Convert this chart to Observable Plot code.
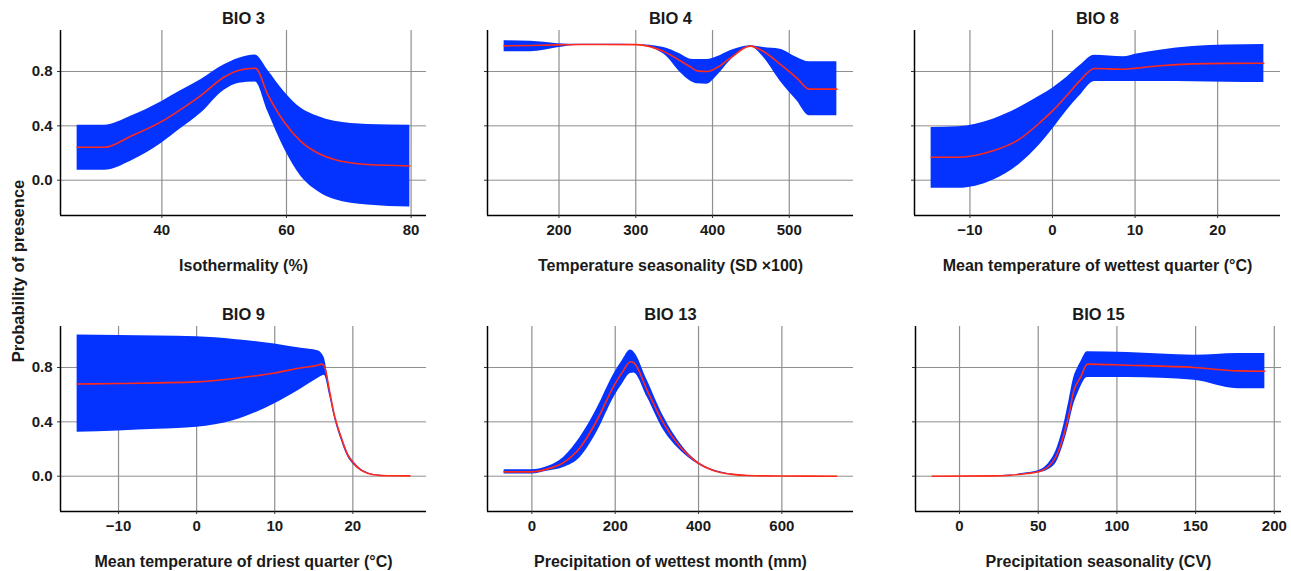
<!DOCTYPE html>
<html>
<head>
<meta charset="utf-8">
<script src="https://cdn.jsdelivr.net/npm/d3@7"></script>
<script src="https://cdn.jsdelivr.net/npm/@observablehq/plot@0.6"></script>
<style>
  html, body { margin: 0; padding: 0; background: #fff; overflow: hidden; }
  #wrap { position: relative; width: 1291px; height: 571px; font-family: "Liberation Sans", Arial, sans-serif; }
  .panel { position: absolute; z-index: 1; }
  #ylab { position: absolute; z-index: 5; left: 18px; top: 271px; transform: translate(-50%, -50%) rotate(-90deg);
          font-size: 16.5px; font-weight: bold; color: #1a1a1a; white-space: nowrap; }
</style>
</head>
<body>
<div id="wrap"><div id="ylab">Probability of presence</div></div>
<script>
// ---- data ----
const titles = ["BIO 3", "BIO 4", "BIO 8", "BIO 9", "BIO 13", "BIO 15"];
const xLabels = ["Isothermality (%)", "Temperature seasonality (SD \u00d7100)", "Mean temperature of wettest quarter (\u00b0C)",
                 "Mean temperature of driest quarter (\u00b0C)", "Precipitation of wettest month (mm)", "Precipitation seasonality (CV)"];
const xTicks = [[40, 60, 80], [200, 300, 400, 500], [-10, 0, 10, 20], [-10, 0, 10, 20], [0, 200, 400, 600], [0, 50, 100, 150, 200]];
const yTicks = [0, 0.4, 0.8];

const bio3_x    = [26.4, 30.8, 35, 40, 43, 46.3, 50, 52.4, 55, 57, 59.6, 62.3, 65, 67.7, 73, 79.8];
const bio3_mean = [0.242, 0.242, 0.323, 0.433, 0.52, 0.625, 0.76, 0.81, 0.824, 0.63, 0.43, 0.286, 0.2, 0.152, 0.115, 0.105];
const bio3_hi   = [0.404, 0.404, 0.47, 0.58, 0.658, 0.742, 0.849, 0.898, 0.922, 0.81, 0.653, 0.531, 0.47, 0.433, 0.41, 0.404];
const bio3_lo   = [0.073, 0.073, 0.14, 0.274, 0.378, 0.494, 0.662, 0.714, 0.722, 0.506, 0.237, 0.029, -0.081, -0.142, -0.183, -0.198];

const bio4_x    = [128.5, 163, 198, 228, 260, 300, 336.5, 358, 371, 380, 393, 406, 423, 449, 466.6, 488, 510, 526, 562];
const bio4_mean = [0.989, 0.992, 0.996, 0.999, 0.999, 0.998, 0.947, 0.879, 0.835, 0.805, 0.8, 0.829, 0.898, 0.987, 0.947, 0.854, 0.751, 0.67, 0.67];
const bio4_hi   = [1.026, 1.022, 1.005, 1.0, 1.0, 0.999, 0.977, 0.928, 0.891, 0.888, 0.888, 0.908, 0.952, 0.99, 0.977, 0.964, 0.903, 0.871, 0.871];
const bio4_lo   = [0.945, 0.945, 0.975, 0.995, 0.998, 0.997, 0.928, 0.793, 0.731, 0.71, 0.707, 0.768, 0.879, 0.984, 0.903, 0.731, 0.584, 0.474, 0.474];

const bio8_x    = [-14.7, -11.4, -7.2, -4, -1.5, 0, 1.7, 3.3, 5.1, 8.6, 10.2, 13, 17, 21, 25.6];
const bio8_mean = [0.169, 0.169, 0.216, 0.302, 0.425, 0.51, 0.621, 0.731, 0.822, 0.817, 0.825, 0.842, 0.856, 0.86, 0.861];
const bio8_hi   = [0.388, 0.393, 0.449, 0.535, 0.621, 0.677, 0.756, 0.842, 0.92, 0.908, 0.928, 0.957, 0.984, 0.996, 0.999];
const bio8_lo   = [-0.059, -0.059, 0.0, 0.118, 0.265, 0.375, 0.51, 0.621, 0.726, 0.726, 0.726, 0.726, 0.724, 0.721, 0.719];

const bio9_x    = [-15.3, -10, -5, 0, 4.8, 10, 13.4, 15.5, 16, 16.35, 17, 17.6, 18.5, 19.3, 20.2, 21, 21.9, 23.2, 24.5, 27.3];
const bio9_mean = [0.679, 0.682, 0.687, 0.694, 0.719, 0.76, 0.798, 0.817, 0.825, 0.81, 0.632, 0.459, 0.286, 0.163, 0.089, 0.047, 0.022, 0.007, 0.003, 0.002];
const bio9_hi   = [1.04, 1.036, 1.032, 1.027, 1.007, 0.973, 0.941, 0.923, 0.904, 0.87, 0.66, 0.48, 0.305, 0.178, 0.1, 0.054, 0.026, 0.009, 0.004, 0.003];
const bio9_lo   = [0.323, 0.333, 0.345, 0.36, 0.41, 0.533, 0.644, 0.719, 0.736, 0.743, 0.6, 0.44, 0.268, 0.148, 0.078, 0.04, 0.018, 0.005, 0.002, 0.001];

const bio13_x    = [-66.6, 0, 36, 76, 116, 156, 197.5, 217.6, 236.6, 244.6, 276.7, 316.8, 357, 397, 437, 477, 517, 600, 732];
const bio13_mean = [0.032, 0.032, 0.052, 0.101, 0.212, 0.41, 0.669, 0.768, 0.842, 0.835, 0.632, 0.385, 0.212, 0.101, 0.04, 0.015, 0.005, 0.001, 0.0];
const bio13_hi   = [0.047, 0.047, 0.069, 0.138, 0.286, 0.496, 0.756, 0.854, 0.928, 0.915, 0.706, 0.435, 0.237, 0.108, 0.045, 0.017, 0.006, 0.001, 0.0];
const bio13_lo   = [0.017, 0.017, 0.037, 0.064, 0.138, 0.323, 0.583, 0.681, 0.756, 0.76, 0.583, 0.336, 0.188, 0.092, 0.035, 0.013, 0.004, 0.001, 0.0];

const bio15_x    = [-17.4, 21.8, 32.4, 43, 50, 55.8, 62.1, 66.4, 69.6, 72.7, 74.9, 77, 81.2, 106.7, 149, 176.7, 194];
const bio15_mean = [0.0, 0.002, 0.007, 0.02, 0.032, 0.064, 0.163, 0.311, 0.459, 0.632, 0.69, 0.731, 0.825, 0.817, 0.8, 0.775, 0.773];
const bio15_hi   = [0.0, 0.002, 0.008, 0.025, 0.04, 0.084, 0.212, 0.385, 0.558, 0.731, 0.793, 0.84, 0.916, 0.911, 0.891, 0.904, 0.904];
const bio15_lo   = [0.0, 0.002, 0.006, 0.016, 0.025, 0.044, 0.114, 0.249, 0.385, 0.533, 0.6, 0.657, 0.726, 0.726, 0.706, 0.644, 0.644];

const series = [
  [bio3_x, bio3_mean, bio3_lo, bio3_hi],
  [bio4_x, bio4_mean, bio4_lo, bio4_hi],
  [bio8_x, bio8_mean, bio8_lo, bio8_hi],
  [bio9_x, bio9_mean, bio9_lo, bio9_hi],
  [bio13_x, bio13_mean, bio13_lo, bio13_hi],
  [bio15_x, bio15_mean, bio15_lo, bio15_hi]
];

// ---- layout / style ----
const RIBBON = "#0433ff", LINE = "#ff2a1a", TEXT = "#1a1a1a", GRID = "#8f8f8f";
const positions = [[0, 0], [427, 0], [854, 0], [0, 296], [427, 296], [855, 296]];
const expand = ([a, b]) => { const d = (b - a) * 0.05; return [a - d, b + d]; };

const yDomain = expand([d3.min(series.flatMap(s => s[2])), d3.max(series.flatMap(s => s[3]))]);

const wrap = document.getElementById("wrap");
series.forEach(([xs, mean, lo, hi], i) => {
  const rows = xs.map((x, j) => ({x, mean: mean[j], lo: lo[j], hi: hi[j]}));
  const xDomain = expand(d3.extent(xs));
  const showY = i % 3 === 0;
  const chart = Plot.plot({
    width: 436, height: 275,
    marginLeft: 60, marginRight: 10, marginTop: 30, marginBottom: 60,
    style: {fontFamily: "'Liberation Sans', Arial, sans-serif", fontSize: "15px", color: TEXT, background: "transparent", overflow: "visible"},
    x: {domain: xDomain, label: null},
    y: {domain: yDomain, label: null},
    marks: [
      Plot.gridX(xTicks[i], {stroke: GRID, strokeOpacity: 1, strokeWidth: 1.2}),
      Plot.gridY(yTicks, {stroke: GRID, strokeOpacity: 1, strokeWidth: 1}),
      Plot.areaY(rows, {x: "x", y1: "lo", y2: "hi", fill: RIBBON, curve: "monotone-x"}),
      Plot.lineY(rows, {x: "x", y: "mean", stroke: LINE, strokeWidth: 1.6, curve: "monotone-x"}),
      Plot.ruleX([xDomain[0]], {stroke: "#000", strokeWidth: 1.5}),
      Plot.ruleY([yDomain[0]], {stroke: "#000", strokeWidth: 1.5}),
      Plot.axisX(xTicks[i], {tickSize: 3, tickPadding: 6, fontSize: 15, fontWeight: "bold", fill: TEXT, stroke: "#333", label: null}),
      Plot.axisY(yTicks, {tickSize: 3, tickPadding: 5, fontSize: 15, fontWeight: "bold", fill: TEXT, stroke: "#333", label: null,
                          tickFormat: showY ? d3.format(".1f") : () => ""}),
      Plot.text([titles[i]], {frameAnchor: "top", dy: -12, lineAnchor: "middle", fontSize: 16.5, fontWeight: "bold", fill: TEXT}),
      Plot.text([xLabels[i]], {frameAnchor: "bottom", dy: 50, lineAnchor: "middle", fontSize: 16, fontWeight: "bold", fill: TEXT})
    ]
  });
  const div = document.createElement("div");
  div.className = "panel";
  div.style.left = positions[i][0] + "px";
  div.style.top = positions[i][1] + "px";
  div.appendChild(chart);
  wrap.appendChild(div);
});
</script>
</body>
</html>
